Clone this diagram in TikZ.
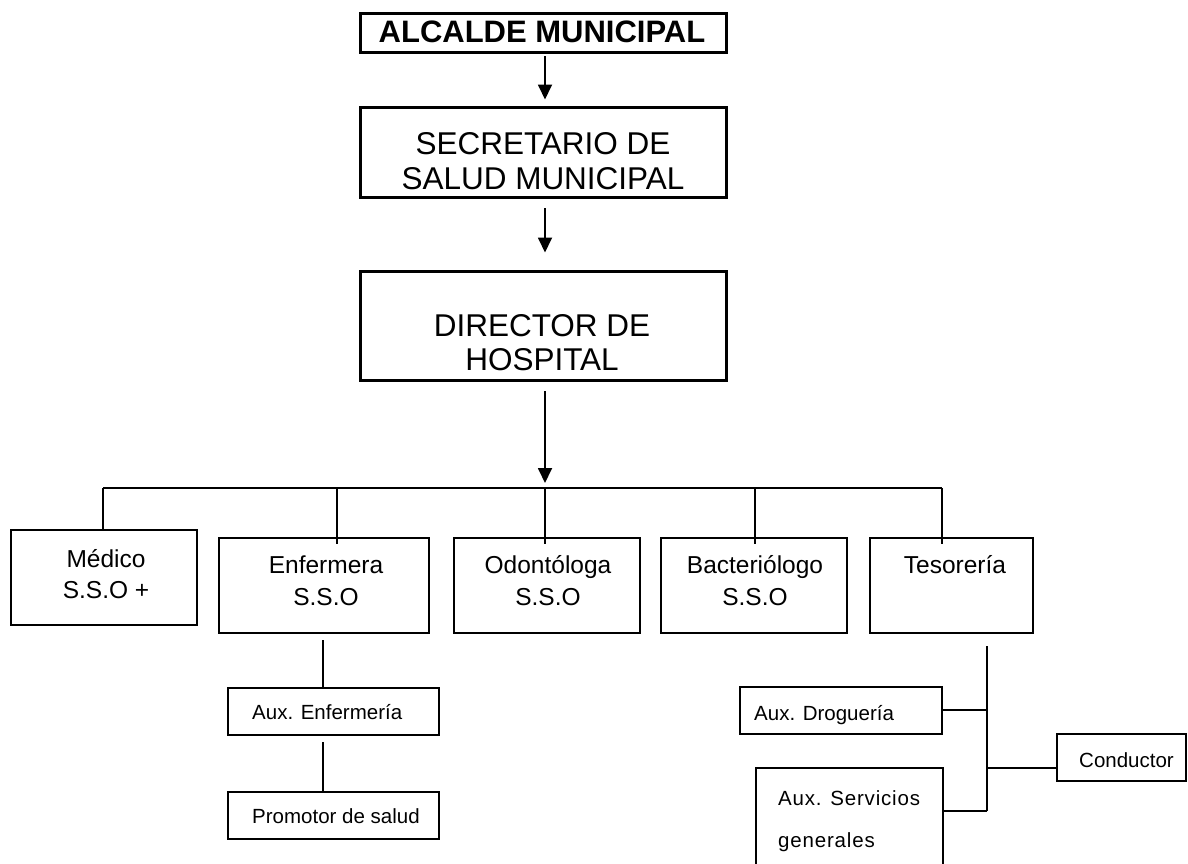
\documentclass[tikz,border=0pt]{standalone}
\usepackage{fontspec}
\setmainfont{Liberation Sans}
\usetikzlibrary{arrows.meta,fit}
\begin{document}
\begin{tikzpicture}[x=1pt,y=-1pt,
  thickbox/.style={draw,line width=3pt,inner sep=0pt},
  midbox/.style={draw,line width=2pt,inner sep=0pt},
  smallbox/.style={draw,line width=1.6pt,inner sep=0pt},
  conn/.style={line width=1.6pt},
  arr/.style={line width=1.8pt,-{Triangle[length=15pt,width=14pt]}},
  bigtxt/.style={font=\fontsize{31.5}{36}\selectfont,anchor=base,inner sep=0pt},
  midtxt/.style={font=\fontsize{24.5}{29}\selectfont,anchor=base,inner sep=0pt},
  smalltxt/.style={font=\fontsize{20.5}{25}\selectfont,anchor=base west,inner sep=0pt}
]
\useasboundingbox (0,0) rectangle (1188,863);
\clip (0,0) rectangle (1188,863);

% top chain
\node[thickbox,fit={(360,13) (726,52)}] (alc) {};
\node[bigtxt,font=\fontsize{31}{36}\selectfont\bfseries] (alct) at (542,42) {ALCALDE MUNICIPAL};
\node[thickbox,fit={(360,107) (726,197)}] (sec) {};
\node[bigtxt] (sect1) at (543,154) {SECRETARIO DE};
\node[bigtxt] (sect2) at (543,189) {SALUD MUNICIPAL};
\node[thickbox,fit={(360,271) (726,380)}] (dir) {};
\node[bigtxt] (dirt1) at (542,336) {DIRECTOR DE};
\node[bigtxt] (dirt2) at (542,370) {HOSPITAL};

\coordinate (a1) at (545,56);
\coordinate (a2) at (545,208);
\coordinate (a3) at (545,391);
\coordinate (bus) at (545,488);
\draw[arr] (a1) -- (a1 |- sec.north) [shorten >=6pt];
\draw[arr] (a2) -- (a2 |- dir.north) [shorten >=17pt];
\draw[arr] (a3) -- ([yshift=5pt]bus);

% second level boxes
\node[midbox,fit={(11,530) (197,625)}] (med) {};
\node[midtxt] at (106,567) {Médico};
\node[midtxt] at (106,598) {S.S.O +};
\node[midbox,fit={(219,538) (429,633)}] (enf) {};
\node[midtxt] at (326,573) {Enfermera};
\node[midtxt] at (326,605) {S.S.O};
\node[midbox,fit={(454,538) (640,633)}] (odo) {};
\node[midtxt] at (548,573) {Odontóloga};
\node[midtxt] at (548,605) {S.S.O};
\node[midbox,fit={(661,538) (847,633)}] (bac) {};
\node[midtxt] at (755,573) {Bacteriólogo};
\node[midtxt] at (755,605) {S.S.O};
\node[midbox,fit={(870,538) (1033,633)}] (tes) {};
\node[midtxt] at (955,573) {Tesorería};

% bus
\coordinate (bL) at (103,488);
\coordinate (bE) at (337,488);
\coordinate (bB) at (755,488);
\coordinate (bR) at (942,488);
\draw[conn] (bL) -- (bR);
\draw[conn] (bL) -- (bL |- med.north);
\draw[conn] (bE) -- ([yshift=-7pt]bE |- enf.north);
\draw[conn] (bus) -- ([yshift=-7pt]bus |- odo.north);
\draw[conn] (bB) -- ([yshift=-7pt]bB |- bac.north);
\draw[conn] (bR) -- ([yshift=-7pt]bR |- tes.north);

% Enfermera subtree
\node[smallbox,fit={(228,688) (439,735)}] (auxe) {};
\node[smalltxt] at (252,719) {Aux. Enfermería};
\node[smallbox,fit={(228,792) (439,839)}] (prom) {};
\node[smalltxt] at (252,823) {Promotor de salud};
\coordinate (e1) at (323,640);
\coordinate (e2) at (323,742);
\draw[conn] (e1) -- (e1 |- auxe.north);
\draw[conn] (e2) -- (e2 |- prom.north);

% Tesoreria subtree
\coordinate (tv1) at (987,646);
\coordinate (tv2) at (987,811);
\coordinate (db) at (987,710);
\draw[conn] (tv1) -- (tv2);
\node[smallbox,fit={(740,687) (942,734)}] (auxd) {};
\node[smalltxt] at (754,720) {Aux. Droguería};
\draw[conn] (db -| auxd.east) -- (db);
\node[smallbox,fit={(1057,734) (1186,781)}] (cond) {};
\node[smalltxt] at (1079,767) {Conductor};
\coordinate (cb) at (987,768);
\draw[conn] (cb) -- (cb -| cond.west);
\node[smallbox,fit={(756,768) (943,875)}] (auxs) {};
\node[smalltxt,font=\fontsize{20.5}{25}\selectfont\addfontfeatures{LetterSpace=4}] at (778,805) {Aux. Servicios};
\node[smalltxt,font=\fontsize{20.5}{25}\selectfont\addfontfeatures{LetterSpace=4}] at (778,847) {generales};
\draw[conn] (tv2) -- (tv2 -| auxs.east);
\end{tikzpicture}
\end{document}
